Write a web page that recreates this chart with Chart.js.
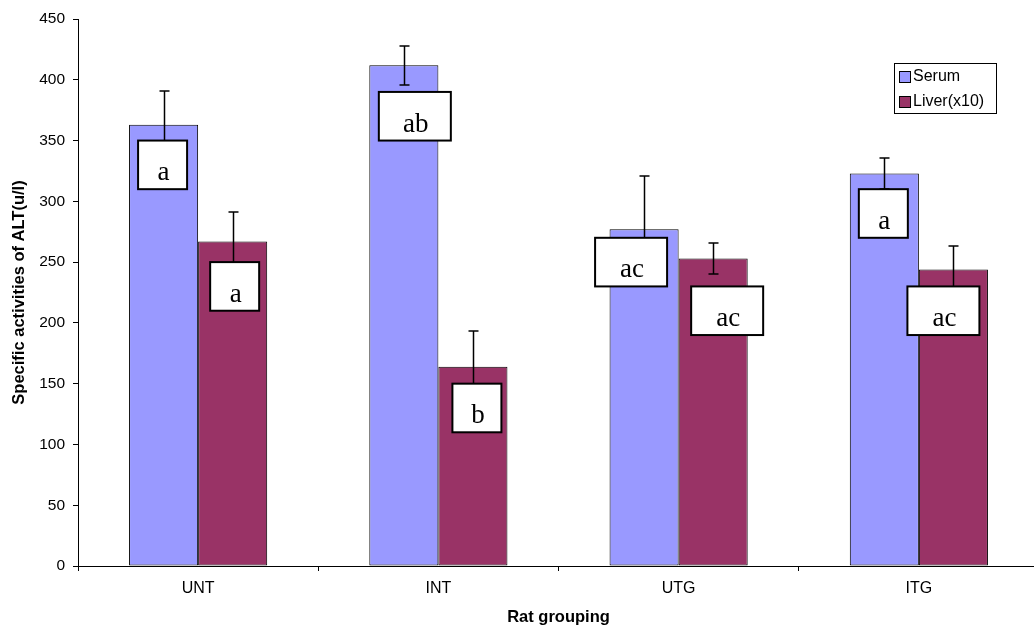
<!DOCTYPE html>
<html>
<head>
<meta charset="utf-8">
<script src="https://cdn.jsdelivr.net/npm/chart.js@4"></script>
<style>
    html, body { margin: 0; padding: 0; background: #fff; overflow: hidden; }
</style>
</head>
<body>
<canvas id="myChart" width="1040" height="627"></canvas>
<script>
const groups = ["UNT", "INT", "UTG", "ITG"];
const serum = [363, 412, 277, 323];
const serumErr = [28, 16, 44, 13];
const liver = [267, 164, 253, 244];
const liverErr = [24, 29, 13, 19];
const serumTags = ["a", "ab", "ac", "a"];
const liverTags = ["a", "b", "ac", "ac"];
const yTicks = [0, 50, 100, 150, 200, 250, 300, 350, 400, 450];

// letter boxes: top edge in axis units, sideways nudge in px from bar centre
const tagTop = [[350, 390, 270, 310], [250, 150, 230, 230]];
const tagNudge = [[-1, 11, -13, -1], [2, 4, 14, -10]];

const errorBars = {
    id: "errorBars",
    afterDatasetsDraw(chart) {
        const ctx = chart.ctx;
        const y = chart.scales.y;
        ctx.save();
        ctx.strokeStyle = "#000";
        ctx.lineWidth = 1.5;
        chart.data.datasets.forEach((ds, i) => {
            chart.getDatasetMeta(i).data.forEach((bar, j) => {
                const hi = Math.round(y.getPixelForValue(ds.data[j] + ds.err[j]));
                const lo = Math.round(y.getPixelForValue(ds.data[j] - ds.err[j]));
                const x = Math.round(bar.x) + 0.5;
                ctx.beginPath();
                ctx.moveTo(x, hi);
                ctx.lineTo(x, lo);
                ctx.moveTo(x - 5, hi);
                ctx.lineTo(x + 5, hi);
                ctx.moveTo(x - 5, lo);
                ctx.lineTo(x + 5, lo);
                ctx.stroke();
            });
        });
        ctx.restore();
    },
};

const letterTags = {
    id: "letterTags",
    afterDatasetsDraw(chart) {
        const ctx = chart.ctx;
        const y = chart.scales.y;
        ctx.save();
        chart.data.datasets.forEach((ds, i) => {
            chart.getDatasetMeta(i).data.forEach((bar, j) => {
                const text = ds.tags[j];
                const w = 26 + 23 * text.length;
                const top = y.getPixelForValue(tagTop[i][j]);
                const bottom = y.getPixelForValue(tagTop[i][j] - 40);
                const cx = bar.x + tagNudge[i][j];
                ctx.fillStyle = "#fff";
                ctx.fillRect(cx - w / 2, top, w, bottom - top);
                ctx.strokeStyle = "#000";
                ctx.lineWidth = 2;
                ctx.strokeRect(cx - w / 2, top, w, bottom - top);
                ctx.fillStyle = "#000";
                ctx.font = "27px 'Liberation Serif', serif";
                ctx.textAlign = "center";
                ctx.textBaseline = "alphabetic";
                ctx.fillText(text, cx + 1, bottom - 9);
            });
        });
        ctx.restore();
    },
};

const boxLegend = {
    id: "boxLegend",
    afterDraw(chart) {
        const ctx = chart.ctx;
        ctx.save();
        ctx.fillStyle = "#fff";
        ctx.fillRect(894, 63, 102, 50);
        ctx.strokeStyle = "#000";
        ctx.lineWidth = 1;
        ctx.strokeRect(894.5, 63.5, 102, 50);
        ctx.font = "16px 'Liberation Sans', Arial, sans-serif";
        ctx.textBaseline = "middle";
        chart.data.datasets.forEach((ds, i) => {
            const top = 71 + i * 25;
            ctx.fillStyle = ds.backgroundColor;
            ctx.fillRect(899, top, 11, 11);
            ctx.strokeRect(899.5, top + 0.5, 11, 11);
            ctx.fillStyle = "#000";
            ctx.fillText(ds.label, 913, top + 6);
        });
        ctx.restore();
    },
};

new Chart("myChart", {
    type: "bar",
    data: {
        labels: groups,
        datasets: [
            {
                label: "Serum",
                data: serum,
                err: serumErr,
                tags: serumTags,
                backgroundColor: "#9999ff",
                borderColor: "#000",
                borderWidth: 1,
                borderSkipped: false,
            },
            {
                label: "Liver(x10)",
                data: liver,
                err: liverErr,
                tags: liverTags,
                backgroundColor: "#993366",
                borderColor: "#000",
                borderWidth: 1,
                borderSkipped: false,
            },
        ],
    },
    plugins: [errorBars, letterTags, boxLegend],
    options: {
        responsive: false,
        animation: false,
        categoryPercentage: 0.575,
        barPercentage: 1,
        layout: { padding: { top: 19, right: 1, left: 0, bottom: 0 } },
        plugins: {
            legend: { display: false },
            tooltip: { enabled: false },
        },
        scales: {
            x: {
                afterFit: (scale) => { scale.height = 61; },
                border: { display: true, color: "#000", width: 1 },
                grid: { display: true, drawOnChartArea: false, drawTicks: true, tickLength: 5, color: "#000" },
                ticks: {
                    color: "#000",
                    padding: 8,
                    font: { family: "'Liberation Sans', Arial, sans-serif", size: 16 },
                },
                title: {
                    display: true,
                    text: "Rat grouping",
                    color: "#000",
                    padding: { top: 3, bottom: 0 },
                    font: { family: "'Liberation Sans', Arial, sans-serif", size: 16.5, weight: "bold" },
                },
            },
            y: {
                min: 0,
                max: 450,
                afterFit: (scale) => { scale.width = 78; },
                afterBuildTicks: (scale) => { scale.ticks = yTicks.map((v) => ({ value: v })); },
                border: { display: true, color: "#000", width: 1 },
                grid: { display: true, drawOnChartArea: false, drawTicks: true, tickLength: 5, color: "#000" },
                ticks: {
                    color: "#000",
                    padding: 8,
                    font: { family: "'Liberation Sans', Arial, sans-serif", size: 15.5 },
                },
                title: {
                    display: true,
                    text: "Specific activities of ALT(u/l)",
                    color: "#000",
                    padding: { top: 10, bottom: 0 },
                    font: { family: "'Liberation Sans', Arial, sans-serif", size: 16.5, weight: "bold" },
                },
            },
        },
    },
});
</script>
</body>
</html>
